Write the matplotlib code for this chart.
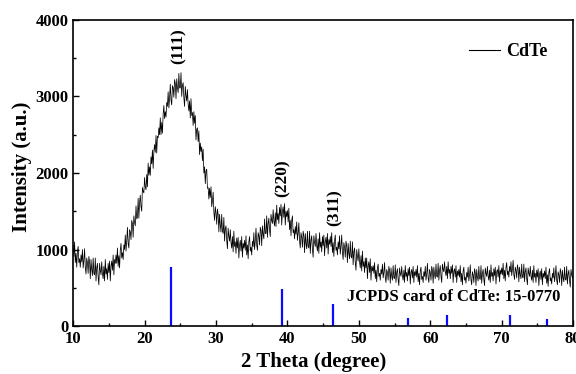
import numpy as np
import matplotlib
matplotlib.use("Agg")
import matplotlib.pyplot as plt
from matplotlib.ticker import MultipleLocator

plt.rcParams['font.family'] = ['Liberation Serif', 'DejaVu Serif']
plt.rcParams['font.weight'] = 'bold'

# XRD scan, 10-80 deg, 0.1 deg step (one row per degree)
two_theta = np.round(np.arange(10, 80.001, 0.1), 1)
intensity = [
    1050, 910, 1100, 830, 950, 770, 980, 1040, 830, 880,
    770, 930, 840, 1000, 760, 860, 1010, 770, 680, 890,
    830, 690, 910, 840, 620, 870, 740, 660, 890, 690,
    670, 890, 590, 760, 820, 640, 540, 820, 730, 670,
    840, 680, 620, 780, 590, 870, 680, 750, 610, 820,
    700, 850, 590, 780, 850, 730, 930, 670, 870, 820,
    930, 820, 1020, 780, 920, 760, 990, 1080, 890, 960,
    870, 1060, 1000, 1190, 980, 1110, 1290, 1080, 1020, 1260,
    1230, 1130, 1380, 1340, 1160, 1440, 1350, 1310, 1570, 1400,
    1420, 1670, 1410, 1620, 1710, 1560, 1500, 1810, 1760, 1740,
    1940, 1820, 1780, 1980, 1820, 2130, 1970, 2080, 1970, 2210,
    2120, 2300, 2060, 2280, 2370, 2270, 2490, 2260, 2480, 2460,
    2590, 2500, 2720, 2500, 2660, 2520, 2770, 2880, 2710, 2800,
    2730, 2920, 2870, 3060, 2850, 2980, 3160, 2950, 2890, 3140,
    3110, 2990, 3220, 3170, 2970, 3230, 3110, 3050, 3300, 3110,
    3110, 3310, 3000, 3140, 3180, 2980, 2870, 3130, 3010, 2940,
    3090, 2900, 2810, 2940, 2720, 2970, 2750, 2790, 2620, 2800,
    2650, 2750, 2430, 2570, 2590, 2410, 2550, 2240, 2390, 2280,
    2340, 2160, 2310, 2000, 2080, 1860, 2030, 2050, 1800, 1810,
    1660, 1800, 1680, 1820, 1560, 1630, 1750, 1490, 1380, 1560,
    1480, 1330, 1530, 1460, 1230, 1460, 1320, 1230, 1460, 1240,
    1210, 1420, 1110, 1270, 1310, 1120, 1010, 1280, 1170, 1110,
    1260, 1090, 1020, 1170, 970, 1240, 1040, 1100, 950, 1150,
    1020, 1160, 890, 1060, 1120, 980, 1170, 900, 1080, 1020,
    1120, 990, 1180, 930, 1060, 880, 1100, 1170, 980, 1030,
    930, 1110, 1040, 1220, 1000, 1110, 1280, 1060, 990, 1220,
    1180, 1060, 1290, 1250, 1050, 1310, 1200, 1140, 1400, 1210,
    1210, 1440, 1160, 1340, 1410, 1250, 1170, 1460, 1380, 1340,
    1520, 1370, 1310, 1480, 1300, 1580, 1390, 1470, 1340, 1550,
    1440, 1590, 1320, 1500, 1560, 1420, 1600, 1320, 1500, 1430,
    1510, 1360, 1540, 1260, 1380, 1180, 1380, 1440, 1220, 1260,
    1140, 1300, 1200, 1360, 1120, 1210, 1350, 1110, 1020, 1220,
    1160, 1030, 1240, 1180, 960, 1210, 1080, 1010, 1240, 1040,
    1020, 1240, 950, 1120, 1180, 1000, 900, 1180, 1090, 1040,
    1210, 1050, 980, 1140, 950, 1220, 1030, 1100, 970, 1170,
    1050, 1190, 920, 1100, 1160, 1020, 1210, 940, 1130, 1070,
    1170, 1040, 1220, 960, 1090, 910, 1120, 1190, 990, 1030,
    930, 1100, 1010, 1180, 940, 1040, 1190, 960, 870, 1090,
    1030, 900, 1110, 1050, 830, 1080, 950, 880, 1110, 910,
    890, 1100, 800, 970, 1020, 830, 730, 1000, 910, 850,
    1010, 840, 760, 920, 720, 980, 780, 840, 700, 890,
    760, 890, 620, 790, 840, 700, 880, 600, 780, 720,
    790, 690, 830, 620, 730, 580, 760, 810, 650, 690,
    600, 740, 680, 810, 630, 700, 830, 640, 570, 740,
    700, 600, 780, 730, 560, 760, 650, 600, 790, 630,
    620, 800, 570, 700, 750, 610, 530, 760, 690, 650,
    780, 650, 600, 730, 570, 790, 650, 700, 590, 750,
    660, 770, 550, 700, 740, 630, 780, 570, 710, 660,
    740, 640, 790, 580, 690, 540, 720, 770, 610, 650,
    570, 710, 650, 780, 600, 680, 820, 630, 570, 740,
    700, 600, 780, 730, 560, 770, 670, 620, 810, 650,
    640, 820, 600, 730, 790, 650, 570, 810, 740, 710,
    840, 710, 660, 780, 620, 840, 690, 740, 620, 780,
    690, 800, 570, 720, 750, 640, 790, 570, 720, 660,
    740, 640, 790, 580, 690, 540, 720, 770, 600, 640,
    560, 700, 640, 770, 590, 670, 800, 600, 540, 710,
    670, 570, 750, 700, 530, 740, 640, 590, 780, 620,
    610, 790, 560, 690, 740, 610, 530, 760, 690, 650,
    780, 650, 600, 730, 570, 800, 650, 700, 590, 750,
    660, 770, 550, 710, 740, 640, 790, 580, 730, 680,
    760, 670, 820, 620, 730, 590, 770, 830, 670, 720,
    640, 780, 710, 840, 660, 740, 860, 670, 610, 770,
    730, 630, 800, 750, 580, 770, 670, 620, 810, 640,
    630, 810, 580, 710, 760, 620, 540, 760, 690, 650,
    780, 650, 600, 730, 570, 790, 640, 690, 570, 730,
    640, 750, 530, 680, 720, 610, 750, 540, 690, 640,
    720, 620, 770, 560, 670, 520, 700, 750, 590, 630,
    550, 690, 630, 760, 580, 660, 790, 600, 540, 710,
    670, 570, 750, 700, 530, 730, 630, 580, 770, 610,
    600, 780, 550, 680, 730, 590, 510, 740, 670, 630,
    660,
]

# standard pattern, JCPDS 15-0770
card_pos = [23.76, 39.31, 46.43, 56.82, 62.35, 71.21, 76.30]
card_int = [770, 480, 290, 105, 145, 145, 90]

# reflections
hkl = ['(111)', '(220)', '(311)']
hkl_x = [24.7, 39.4, 46.6]
hkl_y = [3650, 1930, 1550]

fig = plt.figure(figsize=(5.76, 3.74), dpi=100)
ax = fig.add_axes([0.127, 0.128, 0.868, 0.819])

ax.plot(two_theta, intensity, color='black', lw=0.55, label='CdTe')
ax.vlines(card_pos, 0, card_int, colors='#0a0aff', lw=1.6)

for t, x, y in zip(hkl, hkl_x, hkl_y):
    ax.text(x, y, t, rotation=90, ha='center', va='center', fontsize=12.5, fontweight='bold')
ax.text(48.4, 330, 'JCPDS card of CdTe: 15-0770', fontsize=12, fontweight='bold')

ax.set_xlim(10, 80)
ax.set_ylim(0, 4000)
ax.xaxis.set_major_locator(MultipleLocator(10))
ax.xaxis.set_minor_locator(MultipleLocator(5))
ax.yaxis.set_major_locator(MultipleLocator(1000))
ax.yaxis.set_minor_locator(MultipleLocator(500))
ax.tick_params(which='both', direction='in', labelsize=12, width=1)
ax.tick_params(which='major', length=4)
ax.tick_params(which='minor', length=2.5)
for s in ax.spines.values():
    s.set_linewidth(1.2)

ax.set_xlabel('2 Theta (degree)', fontsize=15, fontweight='bold')
ax.set_ylabel('Intensity (a.u.)', fontsize=15, fontweight='bold')
ax.xaxis.set_label_coords(0.48, -0.085)
ax.yaxis.set_label_coords(-0.082, 0.52)

leg = ax.legend(loc='center right', frameon=False, fontsize=13, handlelength=1.7,
                handletextpad=0.35, bbox_to_anchor=(0.982, 0.895))
leg.get_lines()[0].set_linewidth(0.8)
for t in leg.get_texts():
    t.set_fontweight('bold')

fig.savefig('out.png', dpi=100)
